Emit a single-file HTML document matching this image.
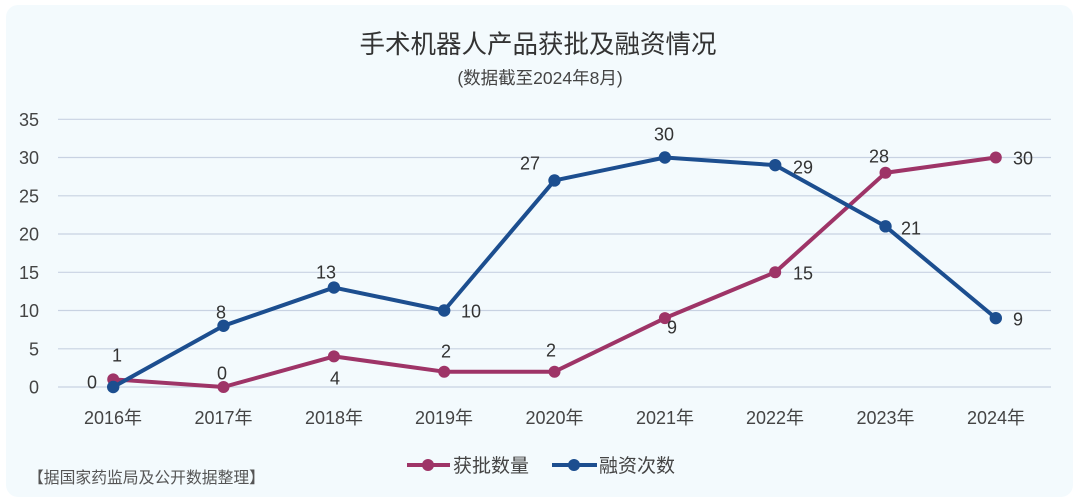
<!DOCTYPE html>
<html><head><meta charset="utf-8"><style>
html,body{margin:0;padding:0;background:#fff;}
svg{display:block;}
text{font-family:"Liberation Sans","Noto Sans CJK SC",sans-serif;}
</style></head><body>
<svg width="1080" height="502" viewBox="0 0 1080 502" xmlns="http://www.w3.org/2000/svg">
<rect x="0" y="0" width="1080" height="502" fill="#ffffff"/>
<rect x="6" y="5" width="1067" height="492" rx="12" fill="#f3fafd"/>
<text x="538" y="53" font-size="25.5" fill="#333" text-anchor="middle">手术机器人产品获批及融资情况</text>
<text x="540" y="84" font-size="17.5" fill="#444" text-anchor="middle">(数据截至2024年8月)</text>
<g stroke="#c8d2e2" stroke-width="1.2">
<line x1="58" y1="119.3" x2="1051" y2="119.3"/>
<line x1="58" y1="157.5" x2="1051" y2="157.5"/>
<line x1="58" y1="195.8" x2="1051" y2="195.8"/>
<line x1="58" y1="234" x2="1051" y2="234"/>
<line x1="58" y1="272.3" x2="1051" y2="272.3"/>
<line x1="58" y1="310.5" x2="1051" y2="310.5"/>
<line x1="58" y1="348.8" x2="1051" y2="348.8"/>
<line x1="58" y1="387" x2="1051" y2="387"/>
</g>
<g font-size="18" fill="#444" text-anchor="end">
<text x="39" y="125.8">35</text>
<text x="39" y="164">30</text>
<text x="39" y="202.3">25</text>
<text x="39" y="240.5">20</text>
<text x="39" y="278.8">15</text>
<text x="39" y="317">10</text>
<text x="39" y="355.3">5</text>
<text x="39" y="393.5">0</text>
</g>
<g font-size="18" fill="#444" text-anchor="middle">
<text x="113" y="424">2016年</text>
<text x="223.5" y="424">2017年</text>
<text x="334" y="424">2018年</text>
<text x="444" y="424">2019年</text>
<text x="554.5" y="424">2020年</text>
<text x="665" y="424">2021年</text>
<text x="775" y="424">2022年</text>
<text x="885.5" y="424">2023年</text>
<text x="996" y="424">2024年</text>
</g>
<polyline fill="none" stroke="#9e3467" stroke-width="4" stroke-linejoin="round" points="113.2,379.35 223.5,387 333.9,356.4 444.2,371.7 554.5,371.7 664.9,318.15 775.2,272.25 885.5,172.8 995.8,157.5"/>
<g fill="#9e3467">
<circle cx="113.2" cy="379.35" r="6"/><circle cx="223.5" cy="387" r="6"/><circle cx="333.9" cy="356.4" r="6"/><circle cx="444.2" cy="371.7" r="6"/><circle cx="554.5" cy="371.7" r="6"/><circle cx="664.9" cy="318.15" r="6"/><circle cx="775.2" cy="272.25" r="6"/><circle cx="885.5" cy="172.8" r="6"/><circle cx="995.8" cy="157.5" r="6"/>
</g>
<polyline fill="none" stroke="#1c4e8f" stroke-width="4" stroke-linejoin="round" points="113.2,387 223.5,325.8 333.9,287.55 444.2,310.5 554.5,180.45 664.9,157.5 775.2,165.15 885.5,226.35 995.8,318.15"/>
<g fill="#1c4e8f">
<circle cx="113.2" cy="387" r="6.2"/><circle cx="223.5" cy="325.8" r="6.2"/><circle cx="333.9" cy="287.55" r="6.2"/><circle cx="444.2" cy="310.5" r="6.2"/><circle cx="554.5" cy="180.45" r="6.2"/><circle cx="664.9" cy="157.5" r="6.2"/><circle cx="775.2" cy="165.15" r="6.2"/><circle cx="885.5" cy="226.35" r="6.2"/><circle cx="995.8" cy="318.15" r="6.2"/>
</g>
<g font-size="18" fill="#333" text-anchor="middle">
<text x="92" y="388.5">0</text>
<text x="221" y="318.5">8</text>
<text x="326" y="278.5">13</text>
<text x="471" y="317.5">10</text>
<text x="530" y="169.5">27</text>
<text x="664" y="140.5">30</text>
<text x="803" y="173.5">29</text>
<text x="911" y="234.5">21</text>
<text x="1018" y="325.5">9</text>
<text x="117" y="361.5">1</text>
<text x="222" y="379.5">0</text>
<text x="335" y="384.5">4</text>
<text x="446" y="357.5">2</text>
<text x="551" y="356.5">2</text>
<text x="672" y="333.5">9</text>
<text x="803" y="279.5">15</text>
<text x="879" y="162.5">28</text>
<text x="1023" y="164.5">30</text>
</g>
<line x1="407" y1="465" x2="450" y2="465" stroke="#9e3467" stroke-width="4"/>
<circle cx="428" cy="465" r="6" fill="#9e3467"/>
<text x="453" y="472" font-size="19" fill="#444">获批数量</text>
<line x1="552" y1="465" x2="597" y2="465" stroke="#1c4e8f" stroke-width="4"/>
<circle cx="574" cy="465" r="6" fill="#1c4e8f"/>
<text x="599" y="472" font-size="19" fill="#444">融资次数</text>
<text x="28" y="483" font-size="15.8" fill="#555">【据国家药监局及公开数据整理】</text>
</svg>
</body></html>
